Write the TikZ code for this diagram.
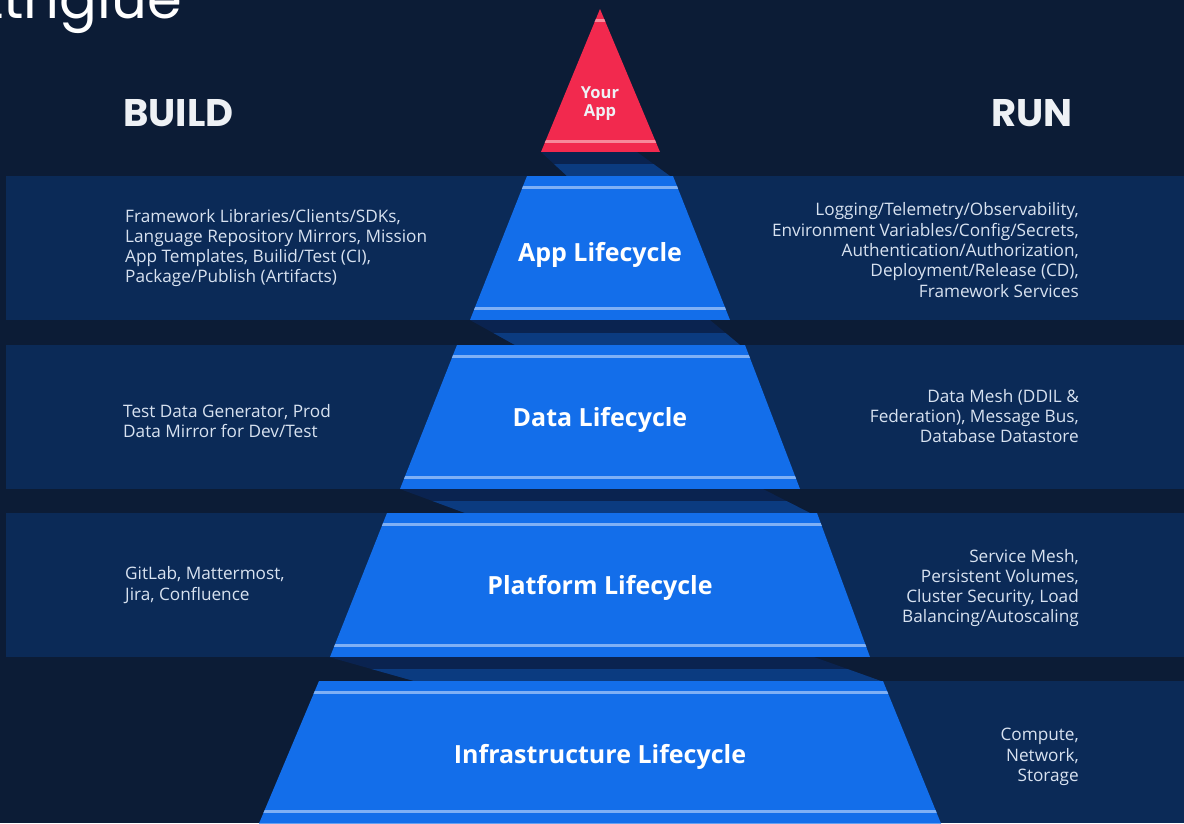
\documentclass[tikz,border=0pt]{standalone}
\usepackage{fontspec}
\setmainfont{Open Sans}
\newfontfamily\titlefont{Poppins}
\definecolor{bgc}{HTML}{0C1C36}
\definecolor{bandc}{HTML}{0B2A57}
\definecolor{bluec}{HTML}{136EEA}
\definecolor{stripec}{HTML}{7FB0F5}
\definecolor{shadc}{HTML}{0A2350}
\definecolor{shadlc}{HTML}{0B3B80}
\definecolor{redc}{HTML}{F2294E}
\definecolor{redstripec}{HTML}{F7899B}
\definecolor{txtc}{HTML}{D8E2F0}
\definecolor{headc}{HTML}{EEF1F5}
\tikzset{
  bodyL/.style={inner sep=0pt, anchor=west, align=left, text=txtc, font=\fontsize{17.2}{20.3}\selectfont},
  bodyR/.style={inner sep=0pt, anchor=east, align=right, text=txtc, font=\fontsize{17.2}{20.3}\selectfont},
  layerlabel/.style={inner sep=0pt, text=white, font=\bfseries\fontsize{25}{28}\selectfont},
  head/.style={inner sep=0pt, text=headc, font=\titlefont\bfseries\fontsize{38.5}{42}\selectfont},
}
\begin{document}
\begin{tikzpicture}[x=1pt,y=-1pt]
\useasboundingbox (0,0) rectangle (1184,823);
\fill[bgc] (0,0) rectangle (1184,823);
% bands
\fill[bandc] (6,176) rectangle (1184,320);
\fill[bandc] (6,345) rectangle (1184,489);
\fill[bandc] (6,513) rectangle (1184,657);
\fill[bandc] (600,681) rectangle (1184,823);
% shadows
\foreach \ya/\yb/\xa/\xb/\xc/\xd in {152/176/541/637/670/567, 320/345/470/710/740/515, 489/513/400/763/810/465, 657/681/329/814/881/414}{
  \begin{scope}
    \clip (\xa,\ya) -- (\xb,\ya) -- (\xc,\yb) -- (\xd,\yb) -- cycle;
    \fill[shadc] (0,\ya) rectangle (1184,\yb);
    \fill[shadlc] (0,{(\ya+\yb)/2}) rectangle (1184,\yb);
  \end{scope}
}
% trapezoids
\foreach \yt/\yb/\xtl/\xtr/\xbl/\xbr in {176/320/527/673/470/730, 345/489/457/745/400/800, 513/657/387/817/330/870, 681/823.5/319/883/259/941}{
  \begin{scope}
    \clip (\xtl,\yt) -- (\xtr,\yt) -- (\xbr,\yb) -- (\xbl,\yb) -- cycle;
    \fill[bluec] (0,\yt) rectangle (1184,\yb);
    \fill[stripec] (0,{\yt+10}) rectangle (1184,{\yt+13});
    \fill[stripec] (0,{\yb-13.5}) rectangle (1184,{\yb-10.5});
  \end{scope}
}
% red top
\begin{scope}
  \clip (600,9) -- (660,152) -- (541,152) -- cycle;
  \fill[redc] (0,0) rectangle (1184,152);
  \fill[redstripec] (0,18.5) rectangle (1184,21.5);
  \fill[redstripec] (0,139.5) rectangle (1184,142.5);
\end{scope}
% texts
\node[inner sep=0pt, anchor=base west, text=white, font=\titlefont\fontsize{56}{60}\selectfont] (cut) at (-17,18) {ttngiue};
\node[head, anchor=west] (build) at (123,113) {BUILD};
\node[head, anchor=east] (run) at (1073,113) {RUN};
\node[inner sep=0pt, align=center, text=headc, font=\bfseries\fontsize{16.5}{18}\selectfont] (yourapp) at (600,104) {Your\\App};
\node[layerlabel] (app) at (600,255) {App Lifecycle};
\node[layerlabel] (data) at (600,420) {Data Lifecycle};
\node[layerlabel] (plat) at (600,588) {Platform Lifecycle};
\node[layerlabel] (infra) at (600,757) {Infrastructure Lifecycle};
\node[bodyL] (b1) at (125,248) {Framework Libraries/Clients/SDKs,\\Language Repository Mirrors, Mission\\App Templates, Builid/Test (CI),\\Package/Publish (Artifacts)};
\node[bodyL] (b2) at (123,421) {Test Data Generator, Prod\\Data Mirror for Dev/Test};
\node[bodyL] (b3) at (125,585) {GitLab, Mattermost,\\Jira, Confluence};
\node[bodyR] (r1) at (1079,250) {Logging/Telemetry/Observability,\\Environment Variables/Config/Secrets,\\Authentication/Authorization,\\Deployment/Release (CD),\\Framework Services};
\node[bodyR] (r2) at (1079,416) {Data Mesh (DDIL \&\\Federation), Message Bus,\\Database Datastore};
\node[bodyR] (r3) at (1079,588) {Service Mesh,\\Persistent Volumes,\\Cluster Security, Load\\Balancing/Autoscaling};
\node[bodyR] (r4) at (1079,757) {Compute,\\Network,\\Storage};
\end{tikzpicture}
\end{document}
